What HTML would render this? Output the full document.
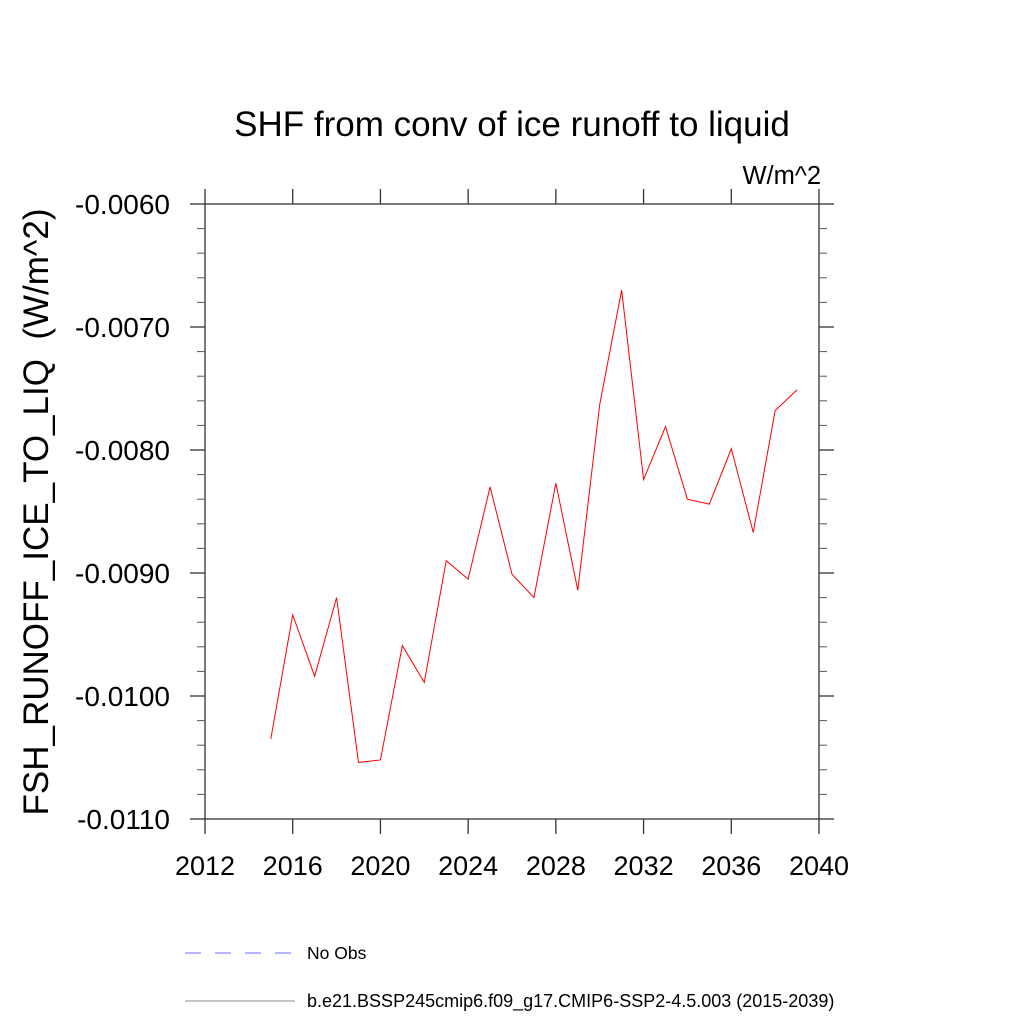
<!DOCTYPE html>
<html><head><meta charset="utf-8"><style>body{margin:0;background:#fff}svg{display:block}</style></head>
<body>
<svg id="chart" width="1024" height="1024" viewBox="0 0 1024 1024" font-family="Liberation Sans, sans-serif">
<text x="512" y="136" font-size="35" text-anchor="middle">SHF from conv of ice runoff to liquid</text>
<text x="821" y="184" font-size="25.5" text-anchor="end">W/m^2</text>
<text transform="translate(48,512) rotate(-90)" font-size="35" text-anchor="middle" style="white-space:pre">FSH_RUNOFF_ICE_TO_LIQ  (W/m^2)</text>
<g id="axes"></g>
<g id="series"></g>
<g>
<line x1="185" y1="953" x2="295" y2="953" stroke="#6b6bff" stroke-width="1" stroke-dasharray="16,14"/>
<text x="307" y="959" font-size="17.5">No Obs</text>
<line x1="185" y1="1001" x2="295" y2="1001" stroke="#888" stroke-width="1"/>
<text x="307" y="1007" font-size="18">b.e21.BSSP245cmip6.f09_g17.CMIP6-SSP2-4.5.003 (2015-2039)</text>
</g>
</svg>
<script>
const years=[2015,2016,2017,2018,2019,2020,2021,2022,2023,2024,2025,2026,2027,2028,2029,2030,2031,2032,2033,2034,2035,2036,2037,2038,2039];
const values=[-0.01035,-0.00934,-0.00984,-0.00920,-0.01054,-0.01052,-0.00959,-0.00989,-0.00890,-0.00905,-0.00830,-0.00901,-0.00920,-0.00827,-0.00914,-0.00763,-0.00670,-0.00824,-0.00781,-0.00840,-0.00844,-0.00799,-0.00867,-0.00768,-0.00751];
const xTicks=[2012,2016,2020,2024,2028,2032,2036,2040];
const yTicks=[-0.006,-0.007,-0.008,-0.009,-0.010,-0.011];
const yTickLabels=["-0.0060","-0.0070","-0.0080","-0.0090","-0.0100","-0.0110"];
const L=205,R=819,T=204,B=819;
const X=v=>L+(v-2012)/28*(R-L);
const Y=v=>T+(-0.006-v)/0.005*(B-T);
const NS="http://www.w3.org/2000/svg";
const ax=document.getElementById('axes'),se=document.getElementById('series');
function mk(p,tag,a){const e=document.createElementNS(NS,tag);for(const k in a)e.setAttribute(k,a[k]);p.appendChild(e);return e;}
const frame=mk(ax,'rect',{x:L,y:T,width:R-L,height:B-T,fill:'none',stroke:'#333','stroke-width':1.3});


xTicks.forEach(t=>{const x=X(t);
mk(ax,'line',{x1:x,y1:B,x2:x,y2:B+15,stroke:'#333','stroke-width':1.3});
mk(ax,'line',{x1:x,y1:T,x2:x,y2:T-15,stroke:'#333','stroke-width':1.3});
const tx=mk(ax,'text',{x:x,y:B+56,'font-size':27,'text-anchor':'middle'});tx.textContent=t;

});
yTicks.forEach((t,i)=>{const y=Y(t);
mk(ax,'line',{x1:L,y1:y,x2:L-15,y2:y,stroke:'#333','stroke-width':1.3});
mk(ax,'line',{x1:R,y1:y,x2:R+15,y2:y,stroke:'#333','stroke-width':1.3});
const tx=mk(ax,'text',{x:L-35,y:y+10,'font-size':28,'text-anchor':'end'});tx.textContent=yTickLabels[i];

});
for(let k=1;k<25;k++){if(k%5===0)continue;const y=Y(-0.006-k*0.0002);
mk(ax,'line',{x1:L,y1:y,x2:L-8,y2:y,stroke:'#555','stroke-width':1});
mk(ax,'line',{x1:R,y1:y,x2:R+8,y2:y,stroke:'#555','stroke-width':1});}
const pl=mk(se,'polyline',{points:years.map((y,i)=>X(y)+','+Y(values[i])).join(' '),fill:'none',stroke:'#ff0000','stroke-width':1});


</script>
</body></html>
